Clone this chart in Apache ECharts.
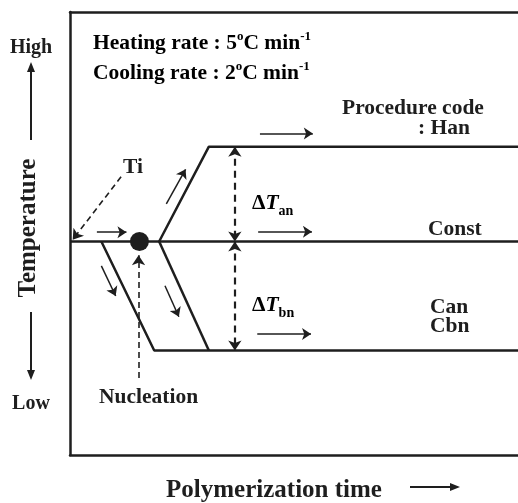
<!DOCTYPE html>
<html>
<head>
<meta charset="utf-8">
<script src="https://cdn.jsdelivr.net/npm/echarts@6/dist/echarts.min.js"></script>
<style>html,body{margin:0;padding:0;background:#fff;}#c{width:518px;height:503px;}</style>
</head>
<body>
<div id="c"></div>
<script>
// ---- schematic data (arbitrary time / temperature units) ----
const timeRange = [0, 100];
const tempRange = [0, 100];
const constPath = [[0, 48.2], [100, 48.2]];
const hanPath = [[19.9, 48.2], [31.0, 69.6], [100, 69.6]];
const coolPath = [[7.0, 48.2], [18.8, 23.6], [100, 23.6]];
const coolPath2 = [[19.9, 48.2], [31.0, 23.6]];
const nucleationPoint = [[15.5, 48.2]];
const flowArrows = [
  [[6.0, 50.3], [12.6, 50.3]],
  [[21.5, 56.7], [25.8, 64.5]],
  [[7.0, 42.7], [10.2, 35.9]],
  [[21.2, 38.2], [24.3, 31.2]],
  [[42.4, 72.6], [54.2, 72.6]],
  [[42.0, 50.4], [54.0, 50.4]],
  [[41.8, 27.3], [53.8, 27.3]]
];
const pointerArrows = [
  [[11.4, 62.8], [0.6, 48.6]],
  [[15.3, 17.4], [15.3, 45.1]]
];
const deltaArrows = [
  [[36.8, 69.6], [36.8, 48.2]],
  [[36.8, 48.2], [36.8, 23.6]]
];

const INK = '#1e1e1e';
const FONT = 'Liberation Serif';
const FS = 21.5;
const base = { fontFamily: FONT, fontWeight: 'bold', fontSize: FS, fill: INK };
function txt(x, y, text, extra) {
  return { type: 'text', x: x, y: y, silent: true,
    style: Object.assign({}, base, { text: text, textVerticalAlign: 'middle' }, extra || {}) };
}
const rich = {
  n: { fontFamily: FONT, fontWeight: 'bold', fontSize: FS, color: INK, lineHeight: 26 },
  it: { fontFamily: FONT, fontWeight: 'bold', fontStyle: 'italic', fontSize: FS, color: INK, lineHeight: 26 },
  sup: { fontFamily: FONT, fontWeight: 'bold', fontSize: 13, color: INK, verticalAlign: 'top', lineHeight: 26 },
  sub: { fontFamily: FONT, fontWeight: 'bold', fontSize: 14, color: INK, verticalAlign: 'bottom', lineHeight: 30 }
};
const frameLine = { show: true, lineStyle: { color: INK, width: 2.5 } };

const chart = echarts.init(document.getElementById('c'), null, { renderer: 'canvas' });
chart.setOption({
  animation: false,
  backgroundColor: '#fff',
  grid: { left: 70, top: 12, width: 452, height: 443, show: false },
  xAxis: [
    { type: 'value', position: 'bottom', min: timeRange[0], max: timeRange[1], axisLine: frameLine,
      axisTick: { show: false }, axisLabel: { show: false }, splitLine: { show: false } },
    { type: 'value', position: 'top', min: timeRange[0], max: timeRange[1], axisLine: frameLine,
      axisTick: { show: false }, axisLabel: { show: false }, splitLine: { show: false } }
  ],
  yAxis: { type: 'value', min: tempRange[0], max: tempRange[1], axisLine: frameLine,
    axisTick: { show: false }, axisLabel: { show: false }, splitLine: { show: false } },
  series: [
    { type: 'line', data: constPath, symbol: 'none', lineStyle: { color: INK, width: 2.5 } },
    { type: 'line', data: hanPath, symbol: 'none', lineStyle: { color: INK, width: 2.5 } },
    { type: 'line', data: coolPath, symbol: 'none', lineStyle: { color: INK, width: 2.5 } },
    { type: 'line', data: coolPath2, symbol: 'none', lineStyle: { color: INK, width: 2.5 } },
    { type: 'scatter', data: nucleationPoint, symbol: 'circle', symbolSize: 19, itemStyle: { color: INK, opacity: 1 }, z: 5 },
    { type: 'lines', coordinateSystem: 'cartesian2d', symbol: ['none', 'arrow'], symbolSize: [0, 9],
      lineStyle: { color: INK, width: 1.5, opacity: 1, curveness: 0 },
      data: flowArrows.map(c => ({ coords: c })) },
    { type: 'lines', coordinateSystem: 'cartesian2d', symbol: ['none', 'arrow'], symbolSize: [0, 10],
      lineStyle: { color: INK, width: 1.6, type: [6, 4], opacity: 1, curveness: 0 },
      data: pointerArrows.map(c => ({ coords: c })) },
    { type: 'lines', coordinateSystem: 'cartesian2d', symbol: ['arrow', 'arrow'], symbolSize: 10,
      lineStyle: { color: INK, width: 2.2, type: [7, 5], opacity: 1, curveness: 0 },
      data: deltaArrows.map(c => ({ coords: c })) }
  ],
  graphic: [
    { type: 'text', x: 93, y: 43, silent: true, style: { text: '{n|Heating rate : 5}{sup|o}{n|C min}{sup|-1}', rich: rich, textVerticalAlign: 'middle' } },
    { type: 'text', x: 93, y: 73, silent: true, style: { text: '{n|Cooling rate : 2}{sup|o}{n|C min}{sup|-1}', rich: rich, textVerticalAlign: 'middle' } },
    txt(342, 108, 'Procedure code'),
    txt(418, 128, ': Han'),
    txt(123, 167, 'Ti'),
    { type: 'text', x: 252, y: 203, silent: true, style: { text: '{n|Δ}{it|T}{sub|an}', rich: rich, textVerticalAlign: 'middle' } },
    txt(428, 229, 'Const'),
    { type: 'text', x: 252, y: 305, silent: true, style: { text: '{n|Δ}{it|T}{sub|bn}', rich: rich, textVerticalAlign: 'middle' } },
    txt(430, 307, 'Can'),
    txt(430, 326, 'Cbn'),
    txt(99, 397, 'Nucleation'),
    txt(31, 48, 'High', { textAlign: 'center', fontSize: 20 }),
    txt(31, 404, 'Low', { textAlign: 'center', fontSize: 20 }),
    { type: 'text', x: 29, y: 228, rotation: Math.PI / 2, silent: true,
      style: Object.assign({}, base, { text: 'Temperature', fontSize: 25, textAlign: 'center', textVerticalAlign: 'middle' }) },
    txt(274, 491, 'Polymerization time', { textAlign: 'center', fontSize: 25 }),
    // axis direction arrows
    { type: 'line', silent: true, shape: { x1: 31, y1: 70, x2: 31, y2: 140 }, style: { stroke: INK, lineWidth: 2 } },
    { type: 'polygon', silent: true, shape: { points: [[31, 62], [27, 72], [35, 72]] }, style: { fill: INK } },
    { type: 'line', silent: true, shape: { x1: 31, y1: 312, x2: 31, y2: 372 }, style: { stroke: INK, lineWidth: 2 } },
    { type: 'polygon', silent: true, shape: { points: [[31, 380], [27, 370], [35, 370]] }, style: { fill: INK } },
    { type: 'line', silent: true, shape: { x1: 410, y1: 487, x2: 452, y2: 487 }, style: { stroke: INK, lineWidth: 2 } },
    { type: 'polygon', silent: true, shape: { points: [[460, 487], [450, 483], [450, 491]] }, style: { fill: INK } }
  ]
});
</script>
</body>
</html>
